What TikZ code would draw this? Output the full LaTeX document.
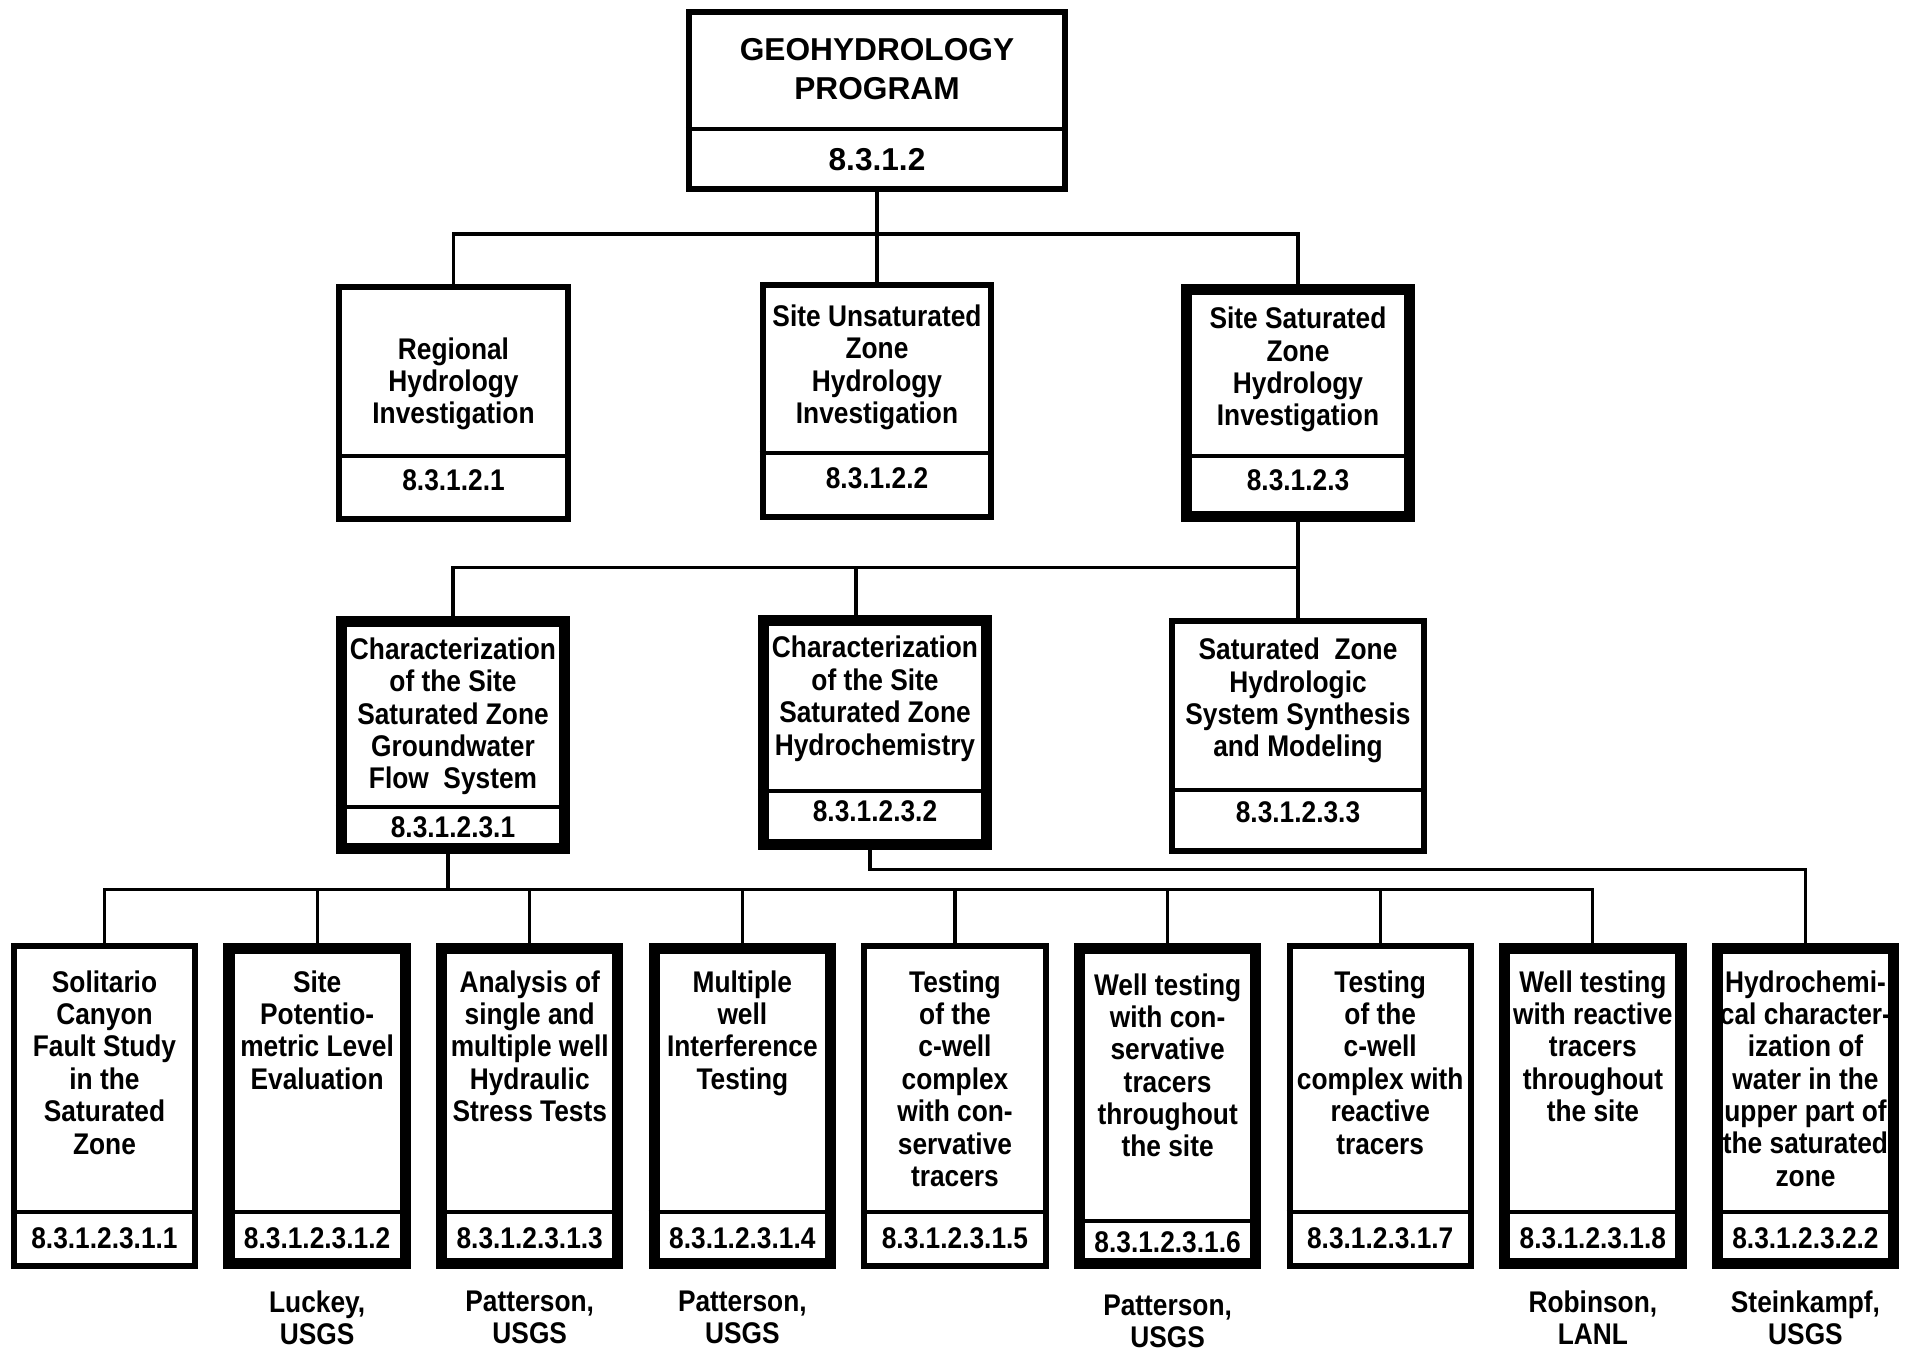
\documentclass[tikz,border=0pt]{standalone}
\usepackage{fontspec}
\setmainfont{Liberation Sans}[FakeStretch=0.88]
\newfontfamily\titlefont{Liberation Sans}
\usetikzlibrary{calc, positioning}

\tikzset{
  box/.style={draw, line width=1.7pt, inner sep=0pt},
  heavy/.style={line width=3.2pt},
  leaf/.style={box, minimum width=1.81cm, minimum height=3.2cm},
  heavyleaf/.style={box, heavy, minimum width=1.76cm, minimum height=3.15cm},
  branch/.style={box, minimum width=2.28cm, minimum height=2.32cm},
  heavybranch/.style={box, heavy, minimum width=2.23cm, minimum height=2.27cm},
  caption/.style={inner sep=0pt, align=center, font=\bfseries\fontsize{8.5}{9.2}\selectfont},
  numpart/.style={inner sep=0pt, minimum height=#1, font=\bfseries\fontsize{8.5}{9.2}\selectfont},
  bigtext/.style={font=\titlefont\bfseries\fontsize{9}{11}\selectfont},
  divider/.style={line width=1.1pt},
  wire/.style={line width=0.9pt}
}

\begin{document}
\begin{tikzpicture}[x=0.01cm,y=-0.01cm,node distance=2.125cm]
\useasboundingbox (0,0) rectangle (1905,1349);

% program
\node[box, minimum width=3.76cm, minimum height=1.77cm] (g0) at (877,100.5) {};
\node[numpart=0.60cm, bigtext] (g0n) [above=0.02cm of g0.south] {8.3.1.2};
\draw[divider] (g0.west |- g0n.north) -- (g0.east |- g0n.north);
\node[caption, bigtext] (g0t) at ($(g0.north)!0.5!(g0n.north)$) {GEOHYDROLOGY\\PROGRAM};

% investigations
\node[branch] (r1) at (453.5,403) {};
\node[numpart=0.48cm] (r1n) [above=0.17cm of r1.south] {8.3.1.2.1};
\draw[divider] (r1.west |- r1n.north) -- (r1.east |- r1n.north);
\node[caption] (r1t) at ($(r1.north)!0.5!(r1n.north)+(0,14)$) {Regional\\Hydrology\\Investigation};

\node[branch] (r2) at (877,401) {};
\node[numpart=0.50cm] (r2n) [above=0.16cm of r2.south] {8.3.1.2.2};
\draw[divider] (r2.west |- r2n.north) -- (r2.east |- r2n.north);
\node[caption] (r2t) at ($(r2.north)!0.5!(r2n.north)$) {Site Unsaturated\\Zone\\Hydrology\\Investigation};

\node[heavybranch] (r3) at (1298,403) {};
\node[numpart=0.48cm] (r3n) [above=0.17cm of r3.south] {8.3.1.2.3};
\draw[divider] (r3.west |- r3n.north) -- (r3.east |- r3n.north);
\node[caption] (r3t) at ($(r3.north)!0.5!(r3n.north)$) {Site Saturated\\Zone\\Hydrology\\Investigation};

% saturated zone activities
\node[heavybranch] (c1) at (453,735) {};
\node[numpart=0.40cm] (c1n) [above=0.06cm of c1.south] {8.3.1.2.3.1};
\draw[divider] (c1.west |- c1n.north) -- (c1.east |- c1n.north);
\node[caption] (c1t) at ($(c1.north)!0.5!(c1n.north)+(0,5)$) {Characterization\\of the Site\\Saturated Zone\\Groundwater\\Flow\ \ System};

\node[heavybranch, minimum height=2.24cm] (c2) at (875,732.5) {};
\node[numpart=0.40cm] (c2n) [above=0.18cm of c2.south] {8.3.1.2.3.2};
\draw[divider] (c2.west |- c2n.north) -- (c2.east |- c2n.north);
\node[caption] (c2t) at ($(c2.north)!0.5!(c2n.north)+(0,-4)$) {Characterization\\of the Site\\Saturated Zone\\Hydrochemistry};

\node[branch, minimum width=2.51cm, minimum height=2.30cm] (c3) at (1298,736) {};
\node[numpart=0.44cm] (c3n) [above=0.19cm of c3.south] {8.3.1.2.3.3};
\draw[divider] (c3.west |- c3n.north) -- (c3.east |- c3n.north);
\node[caption] (c3t) at ($(c3.north)!0.5!(c3n.north)+(0,-3)$) {Saturated\ \ Zone\\Hydrologic\\System Synthesis\\and Modeling};

% studies
\node[leaf] (s1) at (104.5,1106) {};
\node[numpart=0.52cm] (s1n) [above=0.04cm of s1.south] {8.3.1.2.3.1.1};
\draw[divider] (s1.west |- s1n.north) -- (s1.east |- s1n.north);
\node[caption, anchor=north] (s1t) at ($(s1.north)+(0,27)$) {Solitario\\Canyon\\Fault Study\\in the\\Saturated\\Zone};

\node[heavyleaf] (s2) [right of=s1] {};
\node[numpart=0.52cm] (s2n) [above=0.04cm of s2.south] {8.3.1.2.3.1.2};
\draw[divider] (s2.west |- s2n.north) -- (s2.east |- s2n.north);
\node[caption, anchor=north] (s2t) at ($(s2.north)+(0,27)$) {Site\\Potentio-\\metric Level\\Evaluation};

\node[heavyleaf] (s3) [right of=s2] {};
\node[numpart=0.52cm] (s3n) [above=0.04cm of s3.south] {8.3.1.2.3.1.3};
\draw[divider] (s3.west |- s3n.north) -- (s3.east |- s3n.north);
\node[caption, anchor=north] (s3t) at ($(s3.north)+(0,27)$) {Analysis of\\single and\\multiple well\\Hydraulic\\Stress Tests};

\node[heavyleaf] (s4) [right of=s3] {};
\node[numpart=0.52cm] (s4n) [above=0.04cm of s4.south] {8.3.1.2.3.1.4};
\draw[divider] (s4.west |- s4n.north) -- (s4.east |- s4n.north);
\node[caption, anchor=north] (s4t) at ($(s4.north)+(0,27)$) {Multiple\\well\\Interference\\Testing};

\node[leaf] (s5) [right of=s4] {};
\node[numpart=0.52cm] (s5n) [above=0.04cm of s5.south] {8.3.1.2.3.1.5};
\draw[divider] (s5.west |- s5n.north) -- (s5.east |- s5n.north);
\node[caption, anchor=north] (s5t) at ($(s5.north)+(0,27)$) {Testing\\of the\\c-well\\complex\\with con-\\servative\\tracers};

\node[heavyleaf] (s6) [right of=s5] {};
\node[numpart=0.42cm] (s6n) [above=0.05cm of s6.south] {8.3.1.2.3.1.6};
\draw[divider] (s6.west |- s6n.north) -- (s6.east |- s6n.north);
\node[caption, anchor=north] (s6t) at ($(s6.north)+(0,30)$) {Well testing\\with con-\\servative\\tracers\\throughout\\the site};

\node[leaf] (s7) [right of=s6] {};
\node[numpart=0.52cm] (s7n) [above=0.04cm of s7.south] {8.3.1.2.3.1.7};
\draw[divider] (s7.west |- s7n.north) -- (s7.east |- s7n.north);
\node[caption, anchor=north] (s7t) at ($(s7.north)+(0,27)$) {Testing\\of the\\c-well\\complex with\\reactive\\tracers};

\node[heavyleaf] (s8) [right of=s7] {};
\node[numpart=0.52cm] (s8n) [above=0.04cm of s8.south] {8.3.1.2.3.1.8};
\draw[divider] (s8.west |- s8n.north) -- (s8.east |- s8n.north);
\node[caption, anchor=north] (s8t) at ($(s8.north)+(0,27)$) {Well testing\\with reactive\\tracers\\throughout\\the site};

\node[heavyleaf] (s9) [right of=s8] {};
\node[numpart=0.52cm] (s9n) [above=0.04cm of s9.south] {8.3.1.2.3.2.2};
\draw[divider] (s9.west |- s9n.north) -- (s9.east |- s9n.north);
\node[caption, anchor=north] (s9t) at ($(s9.north)+(0,27)$) {Hydrochemi-\\cal character-\\ization of\\water in the\\upper part of\\the saturated\\zone};

% principal investigators
\node[caption] (o2) [below=0.21cm of s2] {Luckey,\\USGS};
\node[caption] (o3) [below=0.21cm of s3] {Patterson,\\USGS};
\node[caption] (o4) [below=0.21cm of s4] {Patterson,\\USGS};
\node[caption] (o6) [below=0.25cm of s6] {Patterson,\\USGS};
\node[caption] (o8) [below=0.21cm of s8] {Robinson,\\LANL};
\node[caption] (o9) [below=0.21cm of s9] {Steinkampf,\\USGS};

% connectors
\draw[wire] (g0.south) -- ++(0,42) coordinate (bus1) -| (r1.north);
\draw[wire] (bus1) -| (r3.north);
\draw[wire] (bus1) -- (r2.north);

\draw[wire] (r3.south) -- ++(0,45) coordinate (bus2) -| (c1.north);
\draw[wire] (bus2) -| ($(c2.north)+(-19,0)$);
\draw[wire] (bus2) -- (c3.north);

\draw[wire] ($(c1.south)+(-5,0)$) -- ++(0,35) coordinate (bus3);
\draw[wire] (s1.north) |- (bus3);
\draw[wire] (s2.north) |- (bus3);
\draw[wire] (s3.north) |- (bus3);
\draw[wire] (s4.north) |- (bus3);
\draw[wire] (s5.north) |- (bus3);
\draw[wire] (s6.north) |- (bus3);
\draw[wire] (s7.north) |- (bus3);
\draw[wire] (s8.north) |- (bus3);
\draw[wire] ($(c2.south)+(-5,0)$) -- ++(0,19) -| (s9.north);
\end{tikzpicture}
\end{document}
